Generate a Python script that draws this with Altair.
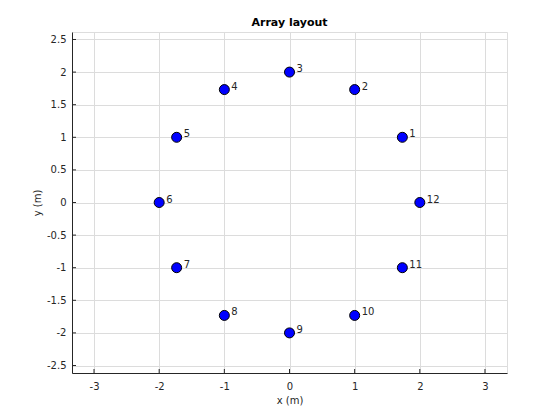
import altair as alt
import pandas as pd

labels = ["1", "2", "3", "4", "5", "6", "7", "8", "9", "10", "11", "12"]
xs = [1.732, 1.0, 0.0, -1.0, -1.732, -2.0, -1.732, -1.0, 0.0, 1.0, 1.732, 2.0]
ys = [1.0, 1.732, 2.0, 1.732, 1.0, 0.0, -1.0, -1.732, -2.0, -1.732, -1.0, 0.0]
x_ticks = [-3, -2, -1, 0, 1, 2, 3]
y_ticks = [-2.5, -2, -1.5, -1, -0.5, 0, 0.5, 1, 1.5, 2, 2.5]
x_dom = [-3.338, 3.338]
y_dom = [-2.615, 2.615]

df = pd.DataFrame({"x": xs, "y": ys, "label": labels})
W, H = 435, 341

xs_ = alt.Scale(domain=x_dom, nice=False, zero=False)
ys_ = alt.Scale(domain=y_dom, nice=False, zero=False)

font = "DejaVu Sans"
common = dict(grid=True, gridColor="#dcdcdc", domainColor="#262626", tickSize=0,
              labelColor="#262626", labelFont=font, labelFontSize=10,
              titleFont=font, titleFontSize=10, titleFontWeight="normal", titleColor="#262626",
              labelFlush=False, labelOverlap=False, labelExpr="datum.value + ''")
xax = alt.Axis(values=x_ticks, title="x (m)", labelPadding=8, titlePadding=4, **common)
yax = alt.Axis(values=y_ticks, title="y (m)", labelPadding=6, titlePadding=4, **common)

base = alt.Chart(df)
pts = base.mark_point(filled=True, shape="circle", size=100, color="#0000ff", stroke="black",
                      strokeWidth=1, opacity=1, clip=True).encode(
    x=alt.X("x:Q", scale=xs_, axis=xax),
    y=alt.Y("y:Q", scale=ys_, axis=yax),
)
txt = base.mark_text(align="left", baseline="middle", dx=7, dy=-3, font=font, fontSize=10,
                     color="#262626").encode(
    x=alt.X("x:Q", scale=xs_, axis=xax), y=alt.Y("y:Q", scale=ys_, axis=yax), text="label:N")

xt = alt.Chart(pd.DataFrame({"t": x_ticks})).mark_rule(color="#262626", strokeWidth=1).encode(
    x=alt.X("t:Q", scale=xs_, axis=xax, title="x (m)"), y=alt.value(H), y2=alt.value(H - 4))
yt = alt.Chart(pd.DataFrame({"t": y_ticks})).mark_rule(color="#262626", strokeWidth=1).encode(
    y=alt.Y("t:Q", scale=ys_, axis=yax, title="y (m)"), x=alt.value(0), x2=alt.value(4))

chart = alt.layer(pts, xt, yt, txt).properties(
    width=W, height=H,
    title=alt.TitleParams("Array layout", font=font, fontSize=11, fontWeight="bold", color="black",
                          anchor="middle", offset=4),
    autosize=alt.AutoSizeParams(type="none"),
    padding={"left": 64, "top": 24, "right": 45, "bottom": 40},
).configure_view(stroke=None).configure(background="white")

chart.save("out.html", embed_options={"renderer": "svg", "actions": False})
